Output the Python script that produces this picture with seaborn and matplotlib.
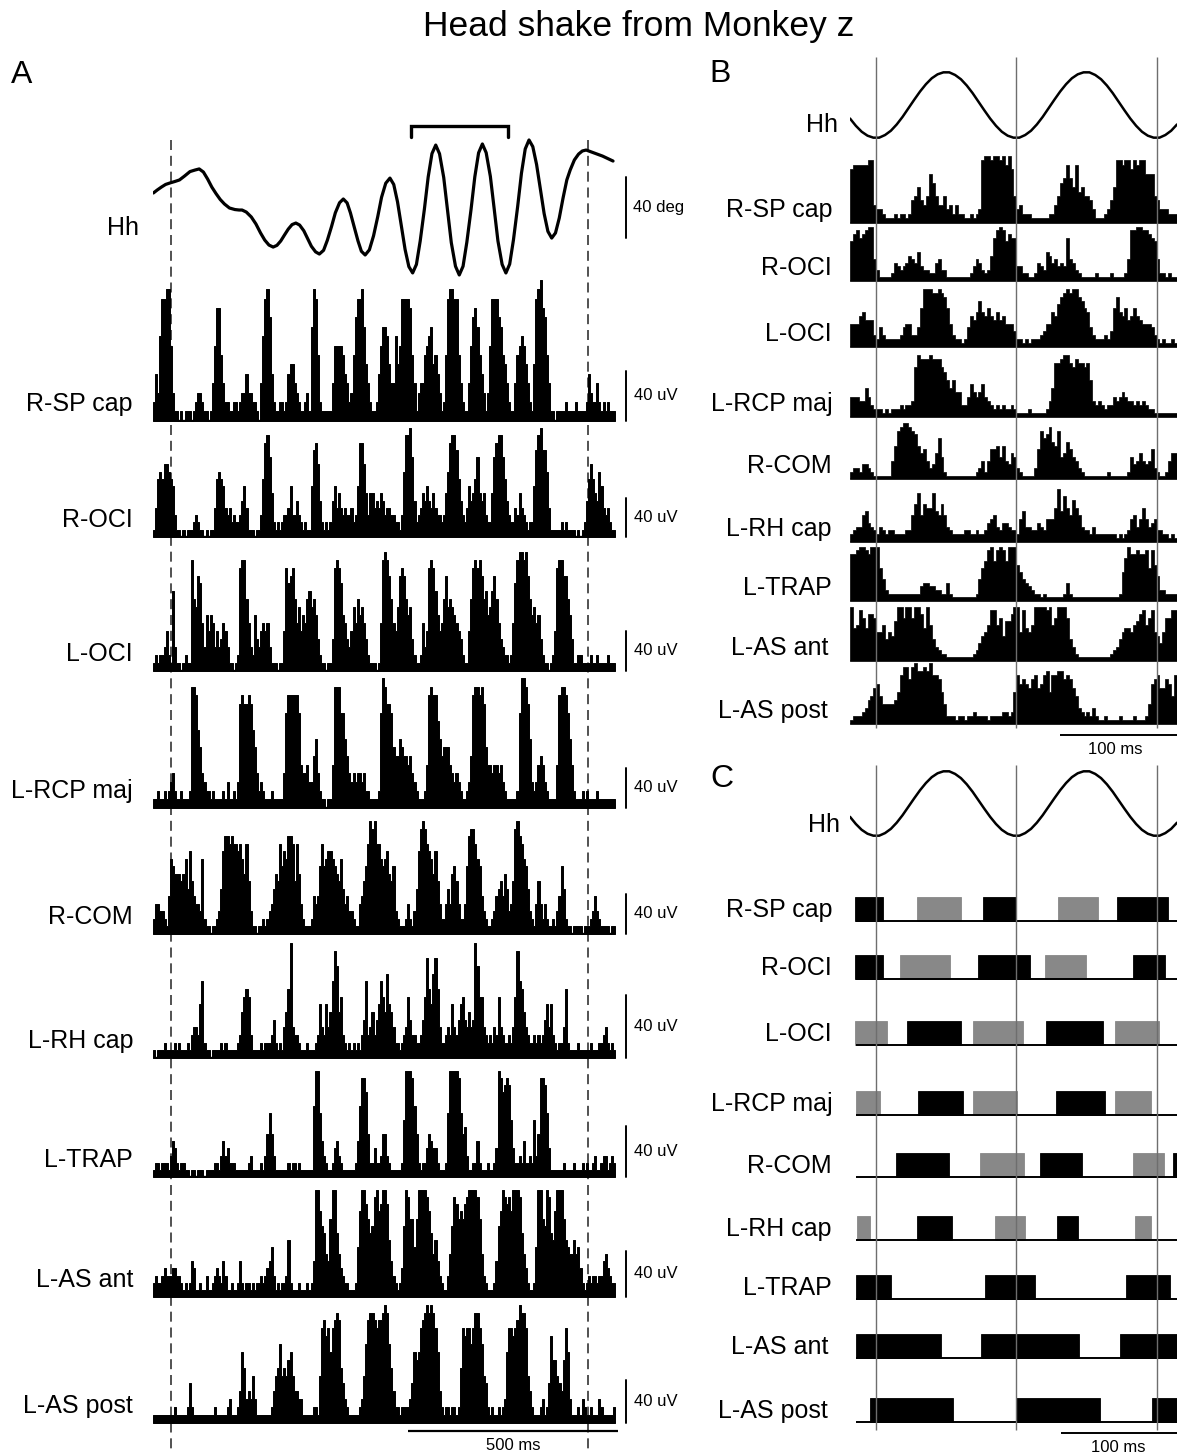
import numpy as np
import pandas as pd
import matplotlib
matplotlib.use("Agg")
import matplotlib.pyplot as plt
import seaborn as sns

# ------------------------------------------------------------------
# Panel A: horizontal head angle (time in ms, angle in deg)
# ------------------------------------------------------------------
A_HH_T = [1, 10, 20, 30, 42, 52, 63, 75, 88, 100, 110, 120, 130, 140, 150, 160,
          170, 182, 195, 205, 212, 222, 234, 245, 256, 266, 276, 286, 295, 304,
          313, 322, 331, 340, 349, 359, 368, 377, 387, 396, 406, 415, 425, 434,
          444, 453, 462, 470, 479, 488, 496, 505, 515, 525, 535, 544, 554, 564,
          573, 582, 591, 600, 609, 618, 627, 636, 646, 655, 664, 673, 682, 692,
          701, 710, 720, 729, 738, 747, 757, 766, 775, 784, 793, 803, 812, 821,
          831, 840, 849, 858, 868, 877, 886, 895, 904, 913, 922, 931, 940, 949,
          958, 967, 976, 985, 993, 1003, 1013, 1022, 1031, 1050, 1070, 1095]
A_HH_DEG = [23.9, 25.8, 27.7, 29.4, 30.5, 31.3, 32.3, 34.8, 37.7, 38.7, 39.4, 37.4,
            32.9, 27.7, 23.5, 19.7, 16.8, 14.2, 13.2, 12.9, 12.9, 11.6, 8.4, 3.9,
            -1.9, -6.5, -9.7, -11.0, -9.9, -7.1, -3.2, 0.6, 3.5, 4.5, 3.2, -0.5,
            -5.5, -10.5, -14.1, -15.5, -13.1, -6.6, 2.3, 11.1, 17.6, 20.0, 17.5,
            11.0, 1.9, -7.1, -13.7, -16.1, -12.8, -3.7, 8.7, 21.1, 30.2, 33.5,
            29.4, 18.2, 2.9, -12.5, -23.6, -27.7, -22.2, -7.1, 13.5, 34.2, 49.3,
            54.8, 49.2, 33.9, 12.9, -8.1, -23.4, -29.0, -23.4, -7.9, 13.2, 34.3,
            49.8, 55.5, 49.9, 34.6, 13.9, -7.0, -22.2, -27.7, -22.0, -6.3, 15.2,
            36.6, 52.3, 58.1, 53.8, 42.3, 26.5, 10.6, -0.9, -5.2, -1.9, 7.7, 20.6,
            32.3, 38.7, 45.2, 49.0, 51.0, 51.6, 49.7, 47.7, 44.5]

# analysis window (dashed lines) and averaged cycles (bracket), ms
A_WINDOW_MS = [42, 1036]
A_BRACKET_MS = [613, 844]

# ------------------------------------------------------------------
# Panel A: rectified EMG, 5 ms bins, amplitude coded 0-f
# ------------------------------------------------------------------
A_BIN_MS = 5
A_LABELS = ["R-SP cap", "R-OCI", "L-OCI", "L-RCP maj", "R-COM",
            "L-RH cap", "L-TRAP", "L-AS ant", "L-AS post"]

A_R_SP_CAP = ("2539ddee831" "101011101" "23321101" "48cc74221" "12212335332210"
              "49deb521" "1221256643211231" "aed721111" "1488887542" "37bddea64211"
              "258aa964496" "8ddddc741" "344789a6753127deedd7421"
              "148bca753138dddba76421" "14789864216defcb741" "101111211112111"
              "125322421212111")
A_R_OCI = ("14898aa98731" "1010111232110101" "148987434232235741" "11011"
           "38deb621" "2123347335321211" "7cda52121" "2574643433423" "7dda63"
           "664546534433221" "39eefb52" "3465754643323" "69deec853"
           "247568b65632" "26bdeeb8532" "243643212" "27cefcc941"
           "111121211110101" "258a86597434211")
A_L_OCI = ("121223" "521a31" "101211" "e98cb63" "75763" "5346531" "1012"
           "dee963" "2743565631" "11011" "5dbcd96" "85769a897421" "1011"
           "4dedb7643" "58697864211" "101" "6efec9658c" "dc978421" "12635"
           "deda7569" "c898765421" "159dedec9a" "78ac9643" "22126be"
           "ffefc97867421" "10125" "deecc9741" "1221111211211112111")
A_L_RCP_MAJ = ("112112123421121112" "eed974322" "1211112131121" "3cdccdc9742"
               "32111211111" "4bdddddb54453368421" "1011" "5eeebb86434344342"
               "211112" "bfeccb7668766564321" "1125" "dedda8677754343211"
               "236deedec755455453211" "1112" "bffec8323565321" "111"
               "5deedb8521" "112121111211111111")
A_R_COM = ("24433215" "a988878a6b75443a21" "10112" "36bddcdccbca8c731" "10112"
           "1234687c9baddc7c8" "42111" "25459c9abba987a645332" "11"
           "4579cfefcca9ab8793" "211124" "2136befecb" "a8b7422464" "89742"
           "249deeca953211" "23567586347" "efdca9632" "1474242112135962"
           "11011110111235321111011")
A_L_RH_CAP = ("1011121111212111213" "4437a21" "1011112121111123" "68983"
              "1111212223521214" "69f43321" "112111237" "43746aec68"
              "3212121213" "5a346" "357a86b7642" "2123485332" "2358d97bd942"
              "234374357854645" "fc8843" "2324384322324" "8ea964"
              "3223232357473" "2122492" "1111211111211122342121")
A_L_TRAP = ("122122213542122" "11011011101111" "2213534222" "11111123111121"
            "369631" "11111212212111111" "aff9532" "11245321" "111112"
            "5aeec62" "242236632111112" "8fffea62" "122465442111"
            "29ffffe9673" "11225211121124" "fecded842" "23252232836" "eed941"
            "11111211112111" "2121123112331232")
A_L_AS_ANT = ("2322343334433212" "1254112" "113112" "343253" "112112521221212"
              "23234573" "1212238211121112125" "ffca965bff964322" "1112"
              "7cffdb9aefcdffd8532" "124a" "febb7bffffec968532" "113"
              "6aedbcbdeffffeb632" "11125" "acfedecfffe964211"
              "27ffbafe98cfffb876686742" "123233233564322")
A_L_AS_POST = ("11111111112111112" "521" "111111111211111231112" "497343631"
               "1111112" "467a67689644331" "1111221" "6cdbc9cded7532" "111112"
               "36adeedcddefea74" "22122223" "5989cdefefec94" "212212212"
               "7cbccaceeca652" "12112123" "9ccbcdfeec6421" "1123125"
               "b886548c931" "11213211211132111112")

A_TRACES = [A_R_SP_CAP, A_R_OCI, A_L_OCI, A_L_RCP_MAJ, A_R_COM,
            A_L_RH_CAP, A_L_TRAP, A_L_AS_ANT, A_L_AS_POST]

# ------------------------------------------------------------------
# Panels B and C: two averaged head-shake cycles
# ------------------------------------------------------------------
B_HH_STEP_MS = 5
B_HH = [-0.41, -0.63, -0.81, -0.93, -0.99, -0.99, -0.91, -0.78, -0.59, -0.36,
        -0.10, 0.16, 0.41, 0.63, 0.81, 0.93, 0.99, 0.99, 0.91, 0.78, 0.59, 0.36,
        0.10, -0.16, -0.41, -0.63, -0.81, -0.93, -0.99, -0.99, -0.91, -0.78,
        -0.59, -0.36, -0.10, 0.16, 0.41, 0.63, 0.81, 0.93, 0.99, 0.99, 0.91,
        0.78, 0.59, 0.36, 0.10, -0.16, -0.41, -0.63, -0.81, -0.93, -0.99, -0.99,
        -0.91, -0.78, -0.59]
HH_TROUGH_MS = [22, 142.5, 262.5]

B_BIN_MS = 2.5
B_R_SP_CAP = ("cdddddee43" "3211121221" "2568546b96" "4463424221" "12123effef"
              "fefdfc6342" "2211111122" "469ada8d78" "6653111235" "8eedeecede"
              "ebbb65333222")
B_R_OCI = ("bdecdeff63" "1111254345" "7658433225" "6331111111" "124653237c"
           "efebdcc442" "2112543875" "6454c65321" "1111211112" "111126eeff"
           "eedcb6221211")
B_L_OCI = ("6668977732" "5322222356" "6335afffee" "feda632212" "5879c98a87"
           "9786664221" "2122234669" "8bdefeffdc" "a953222324" "ad98a78a87"
           "666532121121")
B_L_RCP_MAJ = ("5554475322" "2121222323" "34cfeeefee" "ecb9796633" "5865685432"
               "3232232111" "1211111247" "ddeffdcedd" "cd94343233" "5456544343"
               "432211111111")
B_R_COM = ("2332443211" "111159deff" "edc9785347" "b621111111" "1112352588"
           "9695476321" "11138dbcea" "9d67a86532" "1111111121" "1111126457"
           "545832112577")
B_L_RH_CAP = ("2344785432" "4323322223" "37ad7a99d8" "7a74322223" "3223223567"
              "4355433268" "4433543666" "9e8c97b974" "3324222222" "2121236746"
              "964563322121")
B_L_TRAP = ("ddeffedfff" "9632222222" "2222455443" "3225211111" "111269befb"
            "efebfffa86" "5432212111" "1112521111" "1111111111" "1128cfdded"
            "de9ea7332222")
B_L_AS_ANT = ("f9aec9ddc8" "8a687bffcf" "fcffd9fa64" "3221111111" "1123578aee"
              "ac7bbdff8e" "98affffefa" "cfffc64211" "1111111112" "3468998abd"
              "eace8758ccee")
B_L_AS_POST = ("122234679a" "7555568cee" "befddedfcc" "b852221221" "2232222122"
               "2233238cab" "a9bc9acd8c" "cddbcb9743" "2324211211" "1121111211"
               "125abc99ba7c")
B_TRACES = [B_R_SP_CAP, B_R_OCI, B_L_OCI, B_L_RCP_MAJ, B_R_COM,
            B_L_RH_CAP, B_L_TRAP, B_L_AS_ANT, B_L_AS_POST]

# Panel C: burst on/off times (ms); k = main burst, g = secondary burst
C_R_SP_CAP = [(4, 28, "k"), (57, 95, "g"), (114, 142, "k"), (178, 212, "g"), (229, 272, "k")]
C_R_OCI = [(4, 28, "k"), (43, 86, "g"), (110, 154, "k"), (167, 202, "g"), (242, 270, "k")]
C_L_OCI = [(4, 32, "g"), (49, 95, "k"), (105, 148, "g"), (168, 217, "k"), (227, 265, "g")]
C_L_RCP_MAJ = [(5, 26, "g"), (58, 97, "k"), (105, 143, "g"), (176, 218, "k"), (227, 258, "g")]
C_R_COM = [(39, 85, "k"), (111, 149, "g"), (163, 199, "k"), (242, 269, "g"), (277, 284, "k")]
C_L_RH_CAP = [(6, 17, "g"), (57, 87, "k"), (124, 150, "g"), (177, 195, "k"), (244, 258, "g")]
C_L_TRAP = [(5, 35, "k"), (116, 158, "k"), (236, 274, "k")]
C_L_AS_ANT = [(5, 78, "k"), (112, 196, "k"), (231, 284, "k")]
C_L_AS_POST = [(17, 88, "k"), (142, 214, "k"), (259, 284, "k")]
C_BURSTS = [C_R_SP_CAP, C_R_OCI, C_L_OCI, C_L_RCP_MAJ, C_R_COM,
            C_L_RH_CAP, C_L_TRAP, C_L_AS_ANT, C_L_AS_POST]

# ------------------------------------------------------------------
# layout (pixels of the 1177 x 1455 canvas)
# ------------------------------------------------------------------
W, H = 1177, 1455
A_LEFT, A_RIGHT, A_XMAX = 153, 700, 1302.0
A_BASE = [420.7, 537, 670.7, 808, 934, 1058, 1176.7, 1297, 1422.7]
A_TRACE_H = [141, 109, 119, 130, 113, 115, 106, 107, 118]
A_UV_BAR = [50, 39, 40, 40, 40, 63, 51, 46, 43]
B_LEFT, B_RIGHT, B_XMAX = 850, 1177, 280.0
B_BASE = [222.7, 280.7, 346.7, 417.3, 479.3, 541.7, 600.7, 661, 724]
B_TRACE_H = [66.7, 54, 57.7, 62.3, 56.3, 56.7, 54, 54.3, 60.7]
C_BASE = [920.7, 979.3, 1045, 1115, 1177.3, 1240, 1299.3, 1358.3, 1421.7]
C_BOX_H = 24
LABEL_RIGHT_BC = [832, 832, 832, 833, 832, 832, 832, 828, 828]

sns.set_theme(style="white")
plt.rcParams["font.family"] = ["Liberation Sans", "DejaVu Sans"]
plt.rcParams["text.color"] = "black"

fig = plt.figure(figsize=(W / 100, H / 100), dpi=100)
fig.patch.set_facecolor("white")


def px_axes(left, top, right, bottom):
    ax = fig.add_axes([left / W, 1 - bottom / H, (right - left) / W, (bottom - top) / H])
    ax.set_axis_off()
    return ax


def px_text(x, y, s, **kw):
    fig.text(x / W, 1 - y / H, s, color="black", **kw)


def draw_emg(ax, codes, bin_ms, xmax, base_lw, edge_lw):
    heights = np.array([int(c, 16) for c in codes], dtype=float)
    n = len(heights)
    frame = pd.DataFrame({"t": bin_ms * (np.arange(n) + 0.5), "amp": heights})
    sns.histplot(data=frame, x="t", weights="amp", bins=n,
                 binrange=(0, n * bin_ms), element="step", fill=True,
                 color="black", alpha=1, linewidth=edge_lw, ax=ax)
    ax.plot([0, n * bin_ms], [0, 0], color="black", lw=base_lw,
            solid_capstyle="butt")
    ax.set_xlim(0, xmax)
    ax.set_ylim(0, 15)
    ax.set_axis_off()


LABEL_FS = 18
SCALE_FS = 12

# ---------------- overlays (dashed window, scale bars) --------------
ovA = px_axes(A_LEFT, 0, A_RIGHT, H)
ovA.set_xlim(0, A_XMAX)
ovA.set_ylim(H, 0)
for xm in A_WINDOW_MS:
    ovA.plot([xm, xm], [140, 1450], color="#333333", lw=1.2,
             linestyle=(0, (6, 3.5)))
# time calibration
ovA.plot([608, 1108], [1431, 1431], color="black", lw=1.6, solid_capstyle="butt")
ovA.text(858, 1446, "500 ms", ha="center", va="center", fontsize=SCALE_FS)
# angle and amplitude calibration
x_bar = (626 - A_LEFT) / (A_RIGHT - A_LEFT) * A_XMAX
x_txt = (633 - A_LEFT) / (A_RIGHT - A_LEFT) * A_XMAX
ovA.plot([x_bar, x_bar], [176.7, 238.3], color="black", lw=1.4)
ovA.text(x_txt, 207.5, "40 deg", ha="left", va="center", fontsize=SCALE_FS)
for base, bar in zip(A_BASE, A_UV_BAR):
    ovA.plot([x_bar, x_bar], [base - bar, base], color="black", lw=1.4)
    ovA.text(x_txt + 3, base - bar / 2, "40 uV", ha="left", va="center",
             fontsize=SCALE_FS)

ovB = px_axes(B_LEFT, 0, B_RIGHT, H)
ovB.set_xlim(0, B_XMAX)
ovB.set_ylim(H, 0)
ovB.plot([180, 285], [735, 735], color="black", lw=1.4, solid_capstyle="butt")
ovB.text(227, 749, "100 ms", ha="center", va="center", fontsize=SCALE_FS)
ovB.plot([181, 285], [1433, 1433], color="black", lw=1.4, solid_capstyle="butt")
ovB.text(230, 1448, "100 ms", ha="center", va="center", fontsize=SCALE_FS)

# ---------------- panel A --------------------------------------------
axh = px_axes(A_LEFT, 135, A_RIGHT, 290)
hh_a = pd.DataFrame({"t": A_HH_T, "deg": A_HH_DEG})
sns.lineplot(data=hh_a, x="t", y="deg", color="black", lw=2.3, estimator=None,
             sort=False, ax=axh)
axh.set_xlim(0, A_XMAX)
axh.set_ylim(-38.7, 61.3)
axh.set_axis_off()
b0, b1 = A_BRACKET_MS
axh.plot([b0, b0, b1, b1], [60.0, 67.1, 67.1, 60.0], color="black", lw=2.4,
         clip_on=False, solid_joinstyle="miter")
px_text(139, 235, "Hh", ha="right", va="baseline", fontsize=LABEL_FS)

for label, codes, base, h in zip(A_LABELS, A_TRACES, A_BASE, A_TRACE_H):
    ax = px_axes(A_LEFT, base - h, A_RIGHT, base)
    draw_emg(ax, codes, A_BIN_MS, A_XMAX, 2.4, 0.7)
    px_text(133, base - 10, label, ha="right", va="baseline", fontsize=LABEL_FS)

# ---------------- panel B --------------------------------------------
hh_b = pd.DataFrame({"t": B_HH_STEP_MS * np.arange(len(B_HH)), "v": B_HH})
axb = px_axes(B_LEFT, 60, B_RIGHT, 150)
sns.lineplot(data=hh_b, x="t", y="v", color="black", lw=1.8, estimator=None, ax=axb)
axb.set_xlim(0, B_XMAX)
axb.set_ylim(-1.364, 1.364)
axb.set_axis_off()
px_text(838, 132, "Hh", ha="right", va="baseline", fontsize=LABEL_FS)

for label, codes, base, h, lx in zip(A_LABELS, B_TRACES, B_BASE, B_TRACE_H,
                                      LABEL_RIGHT_BC):
    ax = px_axes(B_LEFT, base - h, B_RIGHT, base)
    draw_emg(ax, codes, B_BIN_MS, B_XMAX, 2.0, 0.5)
    px_text(lx, base - 6, label, ha="right", va="baseline", fontsize=LABEL_FS)

# ---------------- panel C --------------------------------------------
axc = px_axes(B_LEFT, 760, B_RIGHT, 847)
sns.lineplot(data=hh_b, x="t", y="v", color="black", lw=1.8, estimator=None, ax=axc)
axc.set_xlim(0, B_XMAX)
axc.set_ylim(-1.338, 1.338)
axc.set_axis_off()
px_text(840, 832, "Hh", ha="right", va="baseline", fontsize=LABEL_FS)

TONE = {"k": "black", "g": "#888888"}
for label, bursts, base, lx in zip(A_LABELS, C_BURSTS, C_BASE, LABEL_RIGHT_BC):
    ax = px_axes(B_LEFT, base - C_BOX_H, B_RIGHT, base + 1)
    ax.set_xlim(0, B_XMAX)
    ax.set_ylim(-1 / C_BOX_H, 1)
    ax.plot([5, B_XMAX], [0, 0], color="black", lw=1.4, solid_capstyle="butt")
    on = [b[0] for b in bursts]
    dur = [b[1] - b[0] for b in bursts]
    cols = [TONE[b[2]] for b in bursts]
    ax.bar(on, [1] * len(on), width=dur, align="edge", bottom=0, color=cols,
           edgecolor=cols, linewidth=0.6)
    ax.set_axis_off()
    px_text(lx, base - 4, label, ha="right", va="baseline", fontsize=LABEL_FS)

# cycle-trough markers drawn over panels B and C
ovT = px_axes(B_LEFT, 0, B_RIGHT, H)
ovT.set_xlim(0, B_XMAX)
ovT.set_ylim(H, 0)
ovT.vlines(HH_TROUGH_MS, 57, 728, color="#6e6e6e", lw=1.0)
ovT.vlines(HH_TROUGH_MS, 765, 1430, color="#6e6e6e", lw=1.0)

# ---------------- titles ---------------------------------------------
px_text(639, 36, "Head shake from Monkey z", ha="center", va="baseline", fontsize=25.5)
px_text(11, 83, "A", ha="left", va="baseline", fontsize=23)
px_text(709, 82, "B", ha="left", va="baseline", fontsize=23)
px_text(710, 787, "C", ha="left", va="baseline", fontsize=23)

fig.savefig("out.png", dpi=100, facecolor="white")
